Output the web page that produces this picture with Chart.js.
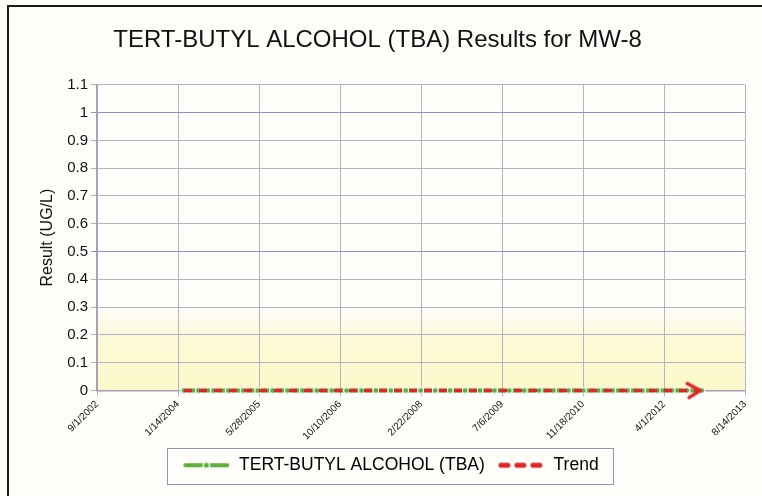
<!DOCTYPE html>
<html>
<head>
<meta charset="utf-8">
<script src="https://cdn.jsdelivr.net/npm/chart.js@4/dist/chart.umd.min.js"></script>
<style>
  html,body{margin:0;padding:0;background:#fdfdf9;}
  #wrap{width:762px;height:496px;position:relative;}
</style>
</head>
<body>
<div id="wrap"><canvas id="c" width="762" height="496"></canvas></div>
<script>
// ---- data ----
const sampleDates = [
  "2004-02-20","2004-05-20","2004-08-20","2004-11-20",
  "2005-02-20","2005-05-20","2005-08-20","2005-11-20",
  "2006-02-20","2006-05-20","2006-08-20","2006-11-20",
  "2007-02-20","2007-05-20","2007-08-20","2007-11-20",
  "2008-02-20","2008-05-20","2008-08-20","2008-11-20",
  "2009-02-20","2009-05-20","2009-08-20","2009-11-20",
  "2010-02-20","2010-05-20","2010-08-20","2010-11-20",
  "2011-02-20","2011-05-20","2011-08-20","2011-11-20",
  "2012-02-20","2012-05-20","2012-08-20","2012-11-20"
];
const tbaValues = [
  0,0,0,0, 0,0,0,0, 0,0,0,0, 0,0,0,0, 0,0,0,0,
  0,0,0,0, 0,0,0,0, 0,0,0,0, 0,0,0,0
];
const trendDates = ["2004-02-20","2012-11-10"];
const trendValues = [0, 0];
const xTickLabels = ["9/1/2002","1/14/2004","5/28/2005","10/10/2006","2/22/2008","7/6/2009","11/18/2010","4/1/2012","8/14/2013"];
const yTicks = [0,0.1,0.2,0.3,0.4,0.5,0.6,0.7,0.8,0.9,1,1.1];
const seriesNames = ["TERT-BUTYL ALCOHOL (TBA)", "Trend"];
const chartTitle = "TERT-BUTYL ALCOHOL (TBA) Results for MW-8";
const yAxisTitle = "Result (UG/L)";

// ---- helpers ----
function isoDay(s){ const p=s.split("-").map(Number); return Date.UTC(p[0],p[1]-1,p[2])/86400000; }
function usDay(s){ const p=s.split("/").map(Number); return Date.UTC(p[2],p[0]-1,p[1])/86400000; }
const tickDays = xTickLabels.map(usDay);
const tickMap = {}; tickDays.forEach((d,i)=>tickMap[d]=xTickLabels[i]);

const tbaPoints = sampleDates.map((d,i)=>({x:isoDay(d), y:tbaValues[i]}));
const trendPoints = trendDates.map((d,i)=>({x:isoDay(d), y:trendValues[i]}));

const GREEN = '#5fae3a';
const RED = '#e0262b';
const FONT = 'Liberation Sans, Arial, sans-serif';
const LEGEND_SHIFT = 13;

// legend swatches
function makeSwatch(kind){
  const cv=document.createElement('canvas'); cv.width=48; cv.height=12;
  const g=cv.getContext('2d');
  if(kind==='green'){
    g.strokeStyle=GREEN; g.lineWidth=4; g.lineCap='round';
    g.beginPath(); g.moveTo(3,6); g.lineTo(45,6); g.stroke();
    g.fillStyle='#ffffff'; g.beginPath(); g.arc(24,6,3.8,0,Math.PI*2); g.fill();
    g.fillStyle=GREEN; g.beginPath(); g.arc(24,6,2.5,0,Math.PI*2); g.fill();
  } else {
    g.strokeStyle=RED; g.lineWidth=5; g.lineCap='round';
    [[4,11],[20,27],[36,43]].forEach(s=>{g.beginPath();g.moveTo(s[0],6);g.lineTo(s[1],6);g.stroke();});
  }
  return cv;
}
const swG = makeSwatch('green'), swR = makeSwatch('red');
// arrowhead (chevron) with tip at image centre
function makeArrow(){
  const cv=document.createElement('canvas'); cv.width=36; cv.height=20;
  const g=cv.getContext('2d');
  g.strokeStyle=RED; g.lineWidth=3.5; g.lineCap='round'; g.lineJoin='round';
  g.beginPath(); g.moveTo(5,3); g.lineTo(18,10); g.lineTo(7,17); g.stroke();
  return cv;
}
const arrowImg = makeArrow();

const bgPlugin = {
  id:'bg',
  afterLayout(chart){
    const lg=chart.legend;
    if(lg){ lg.left+=LEGEND_SHIFT; lg.right+=LEGEND_SHIFT; }
  },
  beforeDraw(chart){
    const c=chart.ctx, a=chart.chartArea, y=chart.scales.y;
    c.save();
    c.fillStyle='#fdfdf9'; c.fillRect(0,0,chart.width,chart.height);
    const yTop=y.getPixelForValue(0.3);
    const grd=c.createLinearGradient(0,yTop,0,a.bottom);
    grd.addColorStop(0,'rgba(252,248,205,0.0)');
    grd.addColorStop(0.4,'rgba(252,248,205,0.8)');
    grd.addColorStop(1,'rgba(252,248,200,0.95)');
    c.fillStyle=grd; c.fillRect(a.left,yTop,a.right-a.left,a.bottom-yTop);
    // outer frame (top and left edges)
    c.strokeStyle='#1a1a1a'; c.lineWidth=2;
    c.beginPath(); c.moveTo(762,6); c.lineTo(8,6); c.lineTo(8,496); c.stroke();
    c.restore();
  },
  afterDraw(chart){
    const c=chart.ctx, lg=chart.legend;
    if(!lg || !lg.legendHitBoxes) return;
    let x0=1e9,x1=-1e9,y0=1e9,y1=-1e9;
    lg.legendHitBoxes.forEach(h=>{x0=Math.min(x0,h.left);x1=Math.max(x1,h.left+h.width);y0=Math.min(y0,h.top);y1=Math.max(y1,h.top+h.height);});
    const w=(x1-x0)+30, cx=(lg.left+lg.right)/2;
    c.save();
    c.strokeStyle='#9a90b8'; c.lineWidth=1;
    c.strokeRect(Math.round(cx-w/2)+0.5, Math.round(y0-9)+0.5, Math.round(w), Math.round(y1-y0+18));
    c.restore();
  }
};

new Chart(document.getElementById('c'), {
  type:'line',
  data:{
    datasets:[
      {
        label:seriesNames[0], data:tbaPoints, clip:false,
        borderColor:GREEN, backgroundColor:GREEN, borderWidth:4,
        pointRadius:3, pointBorderColor:'#e6f2fb', pointBorderWidth:1.3, pointBackgroundColor:GREEN,
        tension:0, order:2
      },
      {
        label:seriesNames[1], data:trendPoints, clip:false,
        borderColor:RED, backgroundColor:RED, borderWidth:3.5, borderDash:[8,7],
        pointStyle(ctx){ return ctx.dataIndex===trendPoints.length-1 ? arrowImg : false; },
        pointRadius(ctx){ return ctx.dataIndex===trendPoints.length-1 ? 8 : 0; },
        tension:0, order:1
      }
    ]
  },
  options:{
    responsive:false, animation:false,
    layout:{padding:{left:10,right:17,top:0,bottom:12}},
    plugins:{
      title:{display:true,text:chartTitle,color:'#111',
        font:{family:FONT,size:24,weight:'normal'},
        padding:{top:26,bottom:30}},
      legend:{position:'bottom',
        labels:{
          font:{family:FONT,size:17.5},
          color:'#111', usePointStyle:true, pointStyleWidth:48, padding:12,
          generateLabels(chart){
            return chart.data.datasets.map((ds,i)=>({
              text:ds.label, pointStyle: i===0?swG:swR, datasetIndex:i,
              fillStyle:'transparent', strokeStyle:'transparent', lineWidth:0, hidden:false
            }));
          }
        }},
      tooltip:{enabled:false}
    },
    scales:{
      x:{type:'linear', min:tickDays[0], max:tickDays[tickDays.length-1],
        afterBuildTicks(s){ s.ticks = tickDays.map(v=>({value:v})); },
        afterFit(s){ s.height = 54; },
        ticks:{autoSkip:false, minRotation:45, maxRotation:45, padding:2,
          font:{family:FONT,size:10}, color:'#111',
          callback(v){ return tickMap[v] || ''; }},
        grid:{color:'#b9b0c2', lineWidth:1, tickLength:6, drawTicks:true},
        border:{color:'#a59cb6', width:1.5}
      },
      y:{min:0, max:1.1,
        afterBuildTicks(s){ s.ticks = yTicks.map(v=>({value:v})); },
        afterFit(s){ s.width = 87; },
        title:{display:true,text:yAxisTitle,color:'#111',
          font:{family:FONT,size:16},padding:{top:28,bottom:0}},
        ticks:{padding:3, font:{family:FONT,size:15}, color:'#111',
          callback(v){ return String(Number(v.toFixed(1))); }},
        grid:{color(ctx){ const v=ctx.tick&&ctx.tick.value; return (v===1||v===0.5)?'#8d8fd0':'#b8b0c0'; }, lineWidth:1, tickLength:6},
        border:{color:'#a59cb6', width:1.5}
      }
    }
  },
  plugins:[bgPlugin]
});
</script>
</body>
</html>
